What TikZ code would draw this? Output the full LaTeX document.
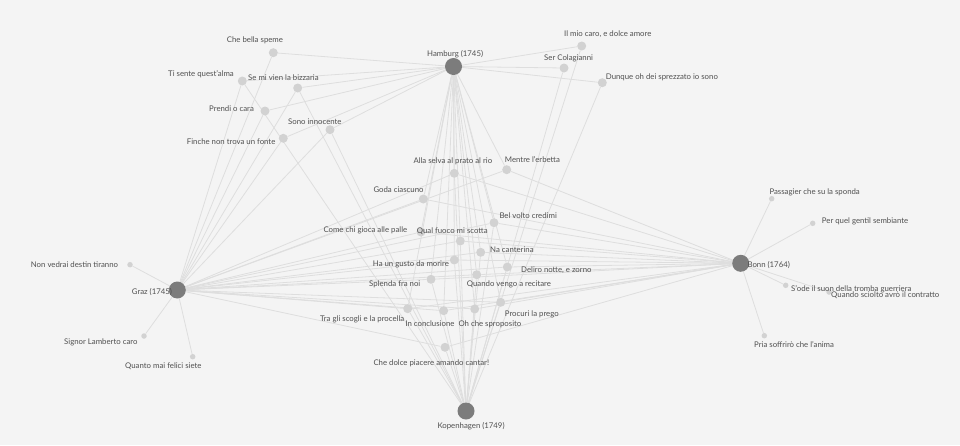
\documentclass[tikz,border=0pt]{standalone}
\usepackage{fontspec}
\setmainfont{Lato}
\definecolor{bgcol}{HTML}{F4F4F4}
\definecolor{edgecol}{HTML}{DEDEDE}
\definecolor{citycol}{HTML}{7C7C7C}
\definecolor{ariacol}{HTML}{D2D2D2}
\definecolor{txtcol}{HTML}{505050}
\pgfdeclarelayer{bg}
\pgfdeclarelayer{edges}
\pgfsetlayers{bg,edges,main}
\begin{document}
\begin{tikzpicture}[x=1pt,y=-1pt,
  city/.style={circle, fill=citycol, minimum size=17pt, inner sep=0pt},
  aria/.style={circle, fill=ariacol, minimum size=9pt, inner sep=0pt},
  leaf/.style={circle, fill=ariacol, minimum size=5.5pt, inner sep=0pt},
  lbl/.style={font=\fontsize{7.8}{9}\selectfont, text=txtcol, inner sep=0pt, anchor=west},
  edge/.style={draw=edgecol, line width=0.8pt}]
\useasboundingbox (0,0) rectangle (960,445);
\begin{pgfonlayer}{bg}
\fill[bgcol] (0,0) rectangle (960,445);
\end{pgfonlayer}
% city nodes
\node[city] (H) at (453.5,66.5) {};
\node[city] (G) at (177.3,290) {};
\node[city] (B) at (740.7,263.3) {};
\node[city] (K) at (466,411) {};
% aria nodes
\node[aria] (che) at (273.3,52.7) {};
\node[aria] (tis) at (242.3,81) {};
\node[aria] (sem) at (297.7,88) {};
\node[aria] (pre) at (265,111) {};
\node[aria] (son) at (330,129.7) {};
\node[aria] (fin) at (283.3,138.3) {};
\node[aria] (ilm) at (581.7,46) {};
\node[aria] (ser) at (564,68) {};
\node[aria] (dun) at (602.3,82.7) {};
\node[leaf] (non) at (130,264.7) {};
\node[leaf] (sig) at (144,336) {};
\node[leaf] (qua) at (192.7,356.7) {};
\node[leaf] (pas) at (771.7,198.7) {};
\node[leaf] (per) at (812.7,223.3) {};
\node[leaf] (sod) at (785.7,285.3) {};
\node[leaf] (qsc) at (829,292) {};
\node[leaf] (pri) at (764.3,335.7) {};
\node[aria] (all) at (454.3,173.3) {};
\node[aria] (men) at (506.7,169.7) {};
\node[aria] (god) at (423.3,199) {};
\node[aria] (bel) at (494,222.7) {};
\node[aria] (com) at (421,232) {};
\node[aria] (qfu) at (460.3,241) {};
\node[aria] (nac) at (480.7,252.3) {};
\node[aria] (hau) at (454.3,260) {};
\node[aria] (del) at (507.3,267) {};
\node[aria] (spl) at (431,279.3) {};
\node[aria] (qve) at (476.7,274.7) {};
\node[aria] (tra) at (407.7,308.7) {};
\node[aria] (inc) at (443.7,310.7) {};
\node[aria] (ohc) at (474.7,309) {};
\node[aria] (pro) at (500.7,302.3) {};
\node[aria] (cdp) at (445,347.3) {};
% edges
\begin{pgfonlayer}{edges}
\foreach \a/\b in {H/che,G/che,
  H/tis,G/tis,K/tis,
  H/sem,G/sem,K/sem,
  H/pre,G/pre,
  H/son,G/son,K/son,
  H/fin,G/fin,
  H/ilm,K/ilm, H/ser,K/ser, H/dun,K/dun,
  G/non,G/sig,G/qua,
  B/pas,B/per,B/sod,B/qsc,B/pri,
  H/all,G/all,B/all,K/all,
  H/men,G/men,B/men,
  H/god,G/god,B/god,
  H/bel,G/bel,B/bel,K/bel,
  H/com,G/com,B/com,
  H/qfu,G/qfu,B/qfu,K/qfu,
  H/nac,G/nac,B/nac,K/nac,
  H/hau,G/hau,B/hau,K/hau,
  H/del,G/del,B/del,K/del,
  H/spl,G/spl,B/spl,K/spl,
  H/qve,G/qve,B/qve,K/qve,
  H/tra,G/tra,B/tra,K/tra,
  H/inc,G/inc,B/inc,K/inc,
  H/ohc,G/ohc,B/ohc,K/ohc,
  H/pro,G/pro,B/pro,K/pro,
  G/cdp,B/cdp,K/cdp}
  \draw[edge] (\a) -- (\b);
\end{pgfonlayer}
% labels
\node[lbl] (H-l) at (427,54) {Hamburg (1745)};
\node[lbl] (G-l) at (131.7,292.3) {Graz (1745)};
\node[lbl] (B-l) at (747.3,265.3) {Bonn (1764)};
\node[lbl] (K-l) at (437.3,425.7) {Kopenhagen (1749)};
\node[lbl] (che-l) at (226.7,40.7) {Che bella speme};
\node[lbl] (tis-l) at (168,74) {Ti sente quest'alma};
\node[lbl] (sem-l) at (248,77.3) {Se mi vien la bizzaria};
\node[lbl] (pre-l) at (209,109) {Prendi o cara};
\node[lbl] (son-l) at (288,121.3) {Sono innocente};
\node[lbl] (fin-l) at (186.7,141.7) {Finche non trova un fonte};
\node[lbl] (ilm-l) at (564,34.3) {Il mio caro, e dolce amore};
\node[lbl] (ser-l) at (544,58.3) {Ser Colagianni};
\node[lbl] (dun-l) at (605.7,77.3) {Dunque oh dei sprezzato io sono};
\node[lbl] (non-l) at (30.7,265) {Non vedrai destin tiranno};
\node[lbl] (sig-l) at (64,342.7) {Signor Lamberto caro};
\node[lbl] (qua-l) at (125,366) {Quanto mai felici siete};
\node[lbl] (pas-l) at (769.3,192.3) {Passagier che su la sponda};
\node[lbl] (per-l) at (821.7,221) {Per quel gentil sembiante};
\node[lbl] (sod-l) at (791,289) {S'ode il suon della tromba guerriera};
\node[lbl] (qsc-l) at (831,295.3) {Quando sciolto avrò il contratto};
\node[lbl] (pri-l) at (754,345) {Pria soffrirò che l'anima};
\node[lbl] (all-l) at (413.3,161.3) {Alla selva al prato al rio};
\node[lbl] (men-l) at (504.7,160) {Mentre l'erbetta};
\node[lbl] (god-l) at (373.3,189.3) {Goda ciascuno};
\node[lbl] (bel-l) at (499.3,216) {Bel volto credimi};
\node[lbl] (com-l) at (323.3,230) {Come chi gioca alle palle};
\node[lbl] (qfu-l) at (416.7,231) {Qual fuoco mi scotta};
\node[lbl] (nac-l) at (490,250) {Na canterina};
\node[lbl] (hau-l) at (372.7,264.3) {Ha un gusto da morire};
\node[lbl] (del-l) at (521,270) {Deliro notte, e zorno};
\node[lbl] (spl-l) at (369,284.3) {Splenda fra noi};
\node[lbl] (qve-l) at (466.7,284) {Quando vengo a recitare};
\node[lbl] (tra-l) at (320,319.3) {Tra gli scogli e la procella};
\node[lbl] (inc-l) at (405.3,323.3) {In conclusione};
\node[lbl] (ohc-l) at (458.3,324) {Oh che sproposito};
\node[lbl] (pro-l) at (504.7,314.3) {Procuri la prego};
\node[lbl] (cdp-l) at (373.3,363.3) {Che dolce piacere amando cantar!};
\end{tikzpicture}
\end{document}
